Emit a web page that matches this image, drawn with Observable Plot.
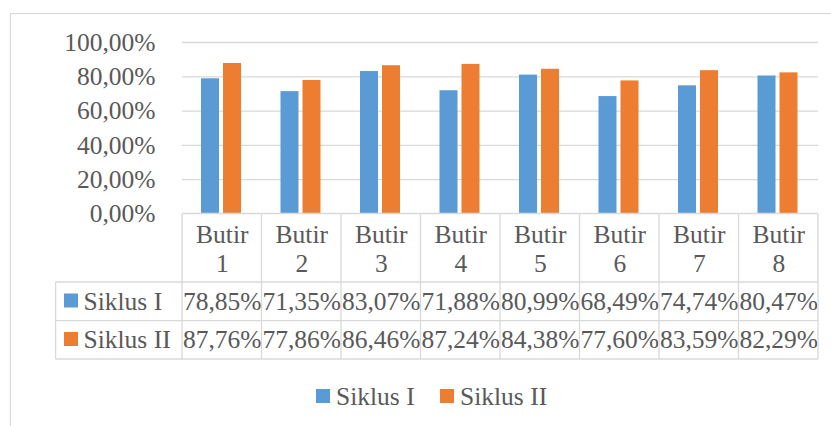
<!DOCTYPE html>
<html><head><meta charset="utf-8">
<script src="https://cdn.jsdelivr.net/npm/d3@7"></script>
<script src="https://cdn.jsdelivr.net/npm/@observablehq/plot@0.6"></script>
<style>html,body{margin:0;padding:0;background:#fff}</style>
</head><body><div id="chart"></div>
<script>
const categories = ["Butir 1","Butir 2","Butir 3","Butir 4","Butir 5","Butir 6","Butir 7","Butir 8"];
const seriesNames = ["Siklus I","Siklus II"];
const siklusI  = [78.85, 71.35, 83.07, 71.88, 80.99, 68.49, 74.74, 80.47];
const siklusII = [87.76, 77.86, 86.46, 87.24, 84.38, 77.60, 83.59, 82.29];
const yTicks = [0, 20, 40, 60, 80, 100];
const colors = ["#5B9BD5", "#ED7D31"];

const fmt = v => d3.format(".2f")(v).replace(".", ",") + "%";
const rows = categories.map((c, i) => ({cat: c, s1: siklusI[i], s2: siklusII[i]}));

const W = 831, H = 426, mL = 182, mR = 13, mT = 42, mB = 212.5;
const gridColor = "#D9D9D9", ink = "#595959";
const FS = 25.5;
const hdrBottom = 68.5, r1Bottom = 107.2, r2Bottom = 145.5, leftColX = 55.6;

// table lines, keys, legend and outer border drawn with the plot's x scale
const decorations = (index, scales, values, dims) => {
  const x = scales.x;
  const step = (dims.width - dims.marginLeft - dims.marginRight) / categories.length;
  const y0 = dims.height - dims.marginBottom;
  const xEnd = dims.width - dims.marginRight;
  const g = d3.create("svg:g");
  // outer chart border
  g.append("rect").attr("x", 10.5).attr("y", 13.5).attr("width", 840).attr("height", 440)
    .attr("fill", "none").attr("stroke", gridColor).attr("stroke-width", 1.2);
  const lines = g.append("g").attr("stroke", gridColor).attr("stroke-width", 1.3).attr("fill", "none");
  const edges = categories.map(c => x(c)).concat([x(categories[categories.length - 1]) + step]);
  edges.forEach(e => lines.append("line").attr("x1", e).attr("x2", e).attr("y1", y0).attr("y2", y0 + r2Bottom));
  lines.append("line").attr("x1", leftColX).attr("x2", leftColX).attr("y1", y0 + hdrBottom).attr("y2", y0 + r2Bottom);
  lines.append("line").attr("x1", dims.marginLeft).attr("x2", xEnd).attr("y1", y0).attr("y2", y0);
  [hdrBottom, r1Bottom, r2Bottom].forEach(b =>
    lines.append("line").attr("x1", leftColX).attr("x2", xEnd).attr("y1", y0 + b).attr("y2", y0 + b));
  // keys in the data table
  [87.5, 126].forEach((dy, i) =>
    g.append("rect").attr("x", 64).attr("y", y0 + dy - 7.5).attr("width", 14).attr("height", 14).attr("fill", colors[i]));
  // bottom legend
  const lg = [{x: 316, tx: 336}, {x: 440, tx: 460}];
  seriesNames.forEach((s, i) => {
    g.append("rect").attr("x", lg[i].x).attr("y", 389).attr("width", 14).attr("height", 14).attr("fill", colors[i]);
    g.append("text").attr("x", lg[i].tx).attr("y", 396).attr("dy", "0.35em").attr("fill", ink)
      .attr("text-anchor", "start").attr("font-size", FS).text(s);
  });
  return g.node();
};

const chart = Plot.plot({
  width: W, height: H,
  marginLeft: mL, marginRight: mR, marginTop: mT, marginBottom: mB,
  style: {fontFamily: "'Liberation Serif', 'Times New Roman', serif", fontSize: FS + "px", color: ink, background: "#fff"},
  x: {type: "band", domain: categories, padding: 0, round: false, axis: null},
  y: {domain: [0, 100], axis: null},
  marks: [
    Plot.ruleY(yTicks.filter(t => t > 0), {stroke: gridColor, strokeWidth: 1.3, strokeOpacity: 1}),
    Plot.barY(rows, {x: "cat", y: "s1", fill: colors[0], insetLeft: 19, insetRight: 42.5}),
    Plot.barY(rows, {x: "cat", y: "s2", fill: colors[1], insetLeft: 41, insetRight: 20.5}),
    Plot.axisY({ticks: yTicks, tickFormat: fmt, tickSize: 0, tickPadding: 27, fontSize: FS, label: null, fill: ink}),
    Plot.text(categories, {x: d => d, text: d => d.replace(" ", "\n"), frameAnchor: "bottom", lineAnchor: "middle", dy: 34, lineHeight: 1.16, fontSize: FS, fill: ink}),
    Plot.text(rows, {x: "cat", text: d => fmt(d.s1), frameAnchor: "bottom", lineAnchor: "middle", dy: 87.5, fontSize: FS, fill: ink}),
    Plot.text(rows, {x: "cat", text: d => fmt(d.s2), frameAnchor: "bottom", lineAnchor: "middle", dy: 126, fontSize: FS, fill: ink}),
    Plot.text([seriesNames[0]], {text: d => d, frameAnchor: "bottom-left", lineAnchor: "middle", dx: 83 - mL, dy: 87.5, textAnchor: "start", fontSize: FS, fill: ink}),
    Plot.text([seriesNames[1]], {text: d => d, frameAnchor: "bottom-left", lineAnchor: "middle", dx: 83 - mL, dy: 126, textAnchor: "start", fontSize: FS, fill: ink}),
    decorations
  ]
});
document.getElementById("chart").appendChild(chart);
</script>
</body></html>
